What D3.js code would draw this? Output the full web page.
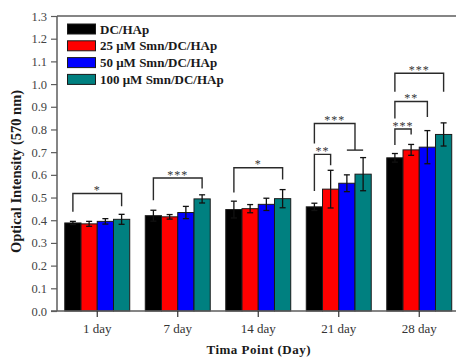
<!DOCTYPE html>
<html>
<head>
<meta charset="utf-8">
<script src="https://cdn.jsdelivr.net/npm/d3@7"></script>
<style>
  html, body { margin: 0; padding: 0; background: #fff; }
  svg { display: block; }
  text { font-family: "Liberation Serif", "Times New Roman", serif; }
</style>
</head>
<body>
<svg id="chart" width="456" height="359"></svg>
<script>
// Time points and groups
const categories = ["1 day", "7 day", "14 day", "21 day", "28 day"];
const seriesNames = ["DC/HAp", "25 μM Smn/DC/HAp", "50 μM Smn/DC/HAp", "100 μM Smn/DC/HAp"];
const seriesColors = ["#000000", "#ff0000", "#0000ff", "#008080"];

// Mean optical intensity (570 nm)
const dcHap   = [0.388, 0.420, 0.447, 0.459, 0.675];
const smn25   = [0.384, 0.415, 0.451, 0.537, 0.710];
const smn50   = [0.395, 0.434, 0.470, 0.563, 0.722];
const smn100  = [0.404, 0.494, 0.495, 0.603, 0.778];

// Standard deviations
const dcHapErr  = [0.007, 0.024, 0.037, 0.016, 0.019];
const smn25Err  = [0.011, 0.010, 0.018, 0.083, 0.024];
const smn50Err  = [0.012, 0.027, 0.027, 0.037, 0.073];
const smn100Err = [0.022, 0.018, 0.040, 0.073, 0.051];

// Y axis ticks
const yTicks = [0.0, 0.1, 0.2, 0.3, 0.4, 0.5, 0.6, 0.7, 0.8, 0.9, 1.0, 1.1, 1.2, 1.3];

// Significance brackets: time point, left group, right group(s), level values, label
const bracketDay   = [0, 1, 2, 3, 3, 4, 4, 4];
const bracketFrom  = [0, 0, 0, 0, 0, 0, 0, 0];
const bracketTo    = [[3], [3], [3], [1], [2, 3], [3], [2], [1]];
const bracketTop   = [0.518, 0.586, 0.631, 0.690, 0.826, 1.048, 0.923, 0.802];
const bracketLeft  = [0.437, 0.488, 0.522, 0.529, 0.738, 0.966, 0.848, 0.731];
const bracketRight = [0.462, 0.540, 0.579, 0.642, 0.709, 0.966, 0.855, 0.778];
const bracketLabel = ["*", "***", "*", "**", "***", "***", "**", "***"];

const values = [dcHap, smn25, smn50, smn100];
const errors = [dcHapErr, smn25Err, smn50Err, smn100Err];

const svg = d3.select("#chart");
const plotLeft = 57, plotRight = 459.5, plotTop = 16, plotBottom = 311;

const x0 = d3.scaleBand().domain(categories).range([plotLeft, plotRight])
  .paddingInner(0.193).paddingOuter(0.0965);
const x1 = d3.scaleBand().domain(d3.range(seriesNames.length)).range([0, x0.bandwidth()]).padding(0);
const y = d3.scaleLinear().domain([0, 1.3]).range([plotBottom, plotTop]);

const axisColor = "#5c5c5c";

// Top frame line
svg.append("line")
  .attr("x1", plotLeft).attr("x2", 456).attr("y1", y(1.3)).attr("y2", y(1.3))
  .attr("stroke", axisColor).attr("stroke-width", 1.5);

// Bars
const groups = svg.append("g").selectAll("g")
  .data(categories).join("g")
  .attr("transform", d => `translate(${x0(d)},0)`);

groups.selectAll("rect")
  .data((d, i) => values.map((s, k) => ({ k, v: s[i], e: errors[k][i] })))
  .join("rect")
  .attr("x", d => x1(d.k))
  .attr("width", x1.bandwidth())
  .attr("y", d => y(d.v))
  .attr("height", d => y(0) - y(d.v))
  .attr("fill", d => seriesColors[d.k])
  .attr("stroke", "#1a1a1a")
  .attr("stroke-width", 1);

// Error bars
const errG = groups.selectAll("g.err")
  .data((d, i) => values.map((s, k) => ({ k, v: s[i], e: errors[k][i] })))
  .join("g").attr("class", "err")
  .attr("transform", d => `translate(${x1(d.k) + x1.bandwidth() / 2},0)`)
  .attr("stroke", "#111").attr("stroke-width", 1.3);
errG.append("line").attr("x1", 0).attr("x2", 0)
  .attr("y1", d => y(d.v - d.e)).attr("y2", d => y(d.v + d.e));
errG.append("line").attr("x1", -3).attr("x2", 3)
  .attr("y1", d => y(d.v + d.e)).attr("y2", d => y(d.v + d.e));
errG.append("line").attr("x1", -3).attr("x2", 3)
  .attr("y1", d => y(d.v - d.e)).attr("y2", d => y(d.v - d.e));

// Y axis
const yAxis = svg.append("g")
  .attr("transform", `translate(${plotLeft},0)`)
  .call(d3.axisLeft(y).tickValues(yTicks).tickFormat(d3.format(".1f")).tickSize(6).tickPadding(4));
yAxis.select(".domain").attr("stroke", axisColor).attr("stroke-width", 1.5)
  .attr("d", `M0,${y(1.3)}V${y(0)}`);
yAxis.selectAll(".tick line").attr("stroke", axisColor).attr("stroke-width", 1.2);
yAxis.selectAll(".tick text").attr("fill", "#444").attr("font-size", 12.5)
  .attr("font-family", "Liberation Serif");

// X axis
const xAxis = svg.append("g")
  .attr("transform", `translate(0,${plotBottom})`)
  .call(d3.axisBottom(x0).tickSize(6).tickPadding(7));
xAxis.select(".domain").attr("stroke", axisColor).attr("stroke-width", 1.5)
  .attr("d", `M${plotLeft - 6},0H456`);
xAxis.selectAll(".tick line").attr("stroke", "#333").attr("stroke-width", 1.2);
xAxis.selectAll(".tick text").attr("fill", "#333").attr("font-size", 13)
  .attr("font-family", "Liberation Serif");

// Axis titles
svg.append("text")
  .attr("x", (plotLeft + plotRight) / 2 + 0.5).attr("y", 354)
  .attr("text-anchor", "middle").attr("font-weight", "bold")
  .attr("font-size", 13).attr("letter-spacing", 0.5).attr("fill", "#1a1a1a")
  .text("Tima Point (Day)");
svg.append("text")
  .attr("transform", `translate(20.5,${(y(0) + y(1.3)) / 2 + 8}) rotate(-90)`)
  .attr("text-anchor", "middle").attr("font-weight", "bold")
  .attr("font-size", 14.5).attr("fill", "#1a1a1a")
  .text("Optical Intensity (570 nm)");

// Significance brackets
const bx = (day, k) => x0(categories[day]) + x1(k) + x1.bandwidth() / 2;
const br = svg.append("g").attr("fill", "none").attr("stroke", "#2a2a2a").attr("stroke-width", 1.4);
bracketDay.forEach((day, i) => {
  const xl = bx(day, bracketFrom[i]);
  const targets = bracketTo[i];
  const xr = targets.length > 1
    ? (bx(day, targets[0]) + bx(day, targets[targets.length - 1])) / 2
    : bx(day, targets[0]);
  br.append("path")
    .attr("d", `M${xl},${y(bracketLeft[i])}V${y(bracketTop[i])}H${xr}V${y(bracketRight[i])}`);
  if (targets.length > 1) {
    br.append("line")
      .attr("x1", bx(day, targets[0])).attr("x2", bx(day, targets[targets.length - 1]))
      .attr("y1", y(bracketRight[i])).attr("y2", y(bracketRight[i]));
  }
  svg.append("text")
    .attr("x", (xl + xr) / 2).attr("y", y(bracketTop[i]) + 0.5)
    .attr("text-anchor", "middle").attr("font-size", 12).attr("letter-spacing", 1)
    .attr("fill", "#333")
    .text(bracketLabel[i]);
});

// Legend
const legend = svg.append("g").attr("transform", "translate(67.5,29)");
const rows = legend.selectAll("g").data(seriesNames).join("g")
  .attr("transform", (d, i) => `translate(0,${i * 16.8})`);
rows.append("rect")
  .attr("x", 0).attr("y", -5).attr("width", 28).attr("height", 10)
  .attr("fill", (d, i) => seriesColors[i]).attr("stroke", "#1a1a1a").attr("stroke-width", 1);
rows.append("text")
  .attr("x", 32.5).attr("y", 4.5)
  .attr("font-weight", "bold").attr("font-size", 13).attr("fill", "#1a1a1a")
  .text(d => d);
</script>
</body>
</html>
